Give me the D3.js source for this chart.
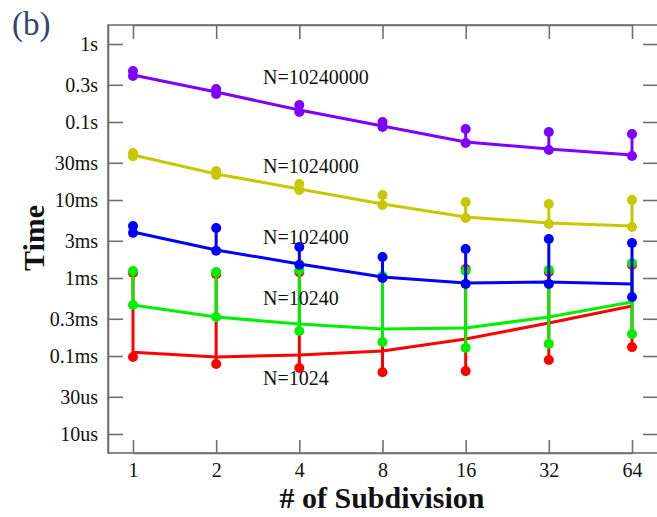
<!DOCTYPE html>
<html><head><meta charset="utf-8">
<script src="https://cdn.jsdelivr.net/npm/d3@7"></script>
<style>
html,body{margin:0;padding:0;background:#fff;}
svg{display:block;}
text{font-family:"Liberation Serif","Times New Roman",serif;}
</style></head>
<body>
<svg id="chart" width="657" height="517"></svg>
<script>
// ---- data (times in seconds) ----
const subdivisions = [1, 2, 4, 8, 16, 32, 64];
const seriesNames = ["N=1024", "N=10240", "N=102400", "N=1024000", "N=10240000"];
const seriesColors = ["#ff0000", "#00f000", "#0000ff", "#c8c800", "#8000ff"];

const mean1024     = [1.12e-4, 0.97e-4, 1.03e-4, 1.16e-4, 1.65e-4, 2.65e-4, 4.38e-4];
const max1024      = [1.16e-3, 1.12e-3, 1.19e-3, 1.03e-3, 1.30e-3, 1.19e-3, 1.47e-3];
const min1024      = [0.97e-4, 0.79e-4, 0.70e-4, 0.62e-4, 0.64e-4, 0.89e-4, 1.30e-4];

const mean10240    = [4.51e-4, 3.16e-4, 2.57e-4, 2.22e-4, 2.29e-4, 3.16e-4, 4.92e-4];
const max10240     = [1.23e-3, 1.19e-3, 1.27e-3, 1.06e-3, 1.23e-3, 1.27e-3, 1.56e-3];
const min10240     = [4.51e-4, 3.16e-4, 2.09e-4, 1.51e-4, 1.27e-4, 1.43e-4, 1.91e-4];

const mean102400   = [3.89e-3, 2.29e-3, 1.51e-3, 1.03e-3, 0.863e-3, 0.89e-3, 0.838e-3];
const max102400    = [4.64e-3, 4.38e-3, 2.50e-3, 1.86e-3, 2.36e-3, 3.16e-3, 2.81e-3];
const min102400    = [3.79e-3, 2.24e-3, 1.48e-3, 1.00e-3, 0.84e-3, 0.84e-3, 0.571e-3];

const mean1024000  = [0.0378, 0.0216, 0.01384, 0.00889, 0.00605, 0.00507, 0.00464];
const max1024000   = [0.0401, 0.0235, 0.0160, 0.0116, 0.00942, 0.00889, 0.0100];
const min1024000   = [0.0365, 0.0209, 0.01343, 0.00863, 0.00587, 0.00492, 0.00451];

const mean10240000 = [0.401, 0.242, 0.1425, 0.0889, 0.0554, 0.0451, 0.0378];
const max10240000  = [0.451, 0.265, 0.165, 0.100, 0.0813, 0.0744, 0.0702];
const min10240000  = [0.389, 0.229, 0.134, 0.0862, 0.0538, 0.0438, 0.0367];

const yTickValues = [1, 0.3, 0.1, 0.03, 0.01, 0.003, 0.001, 3e-4, 1e-4, 3e-5, 1e-5];
const yTickLabels = ["1s", "0.3s", "0.1s", "30ms", "10ms", "3ms", "1ms", "0.3ms", "0.1ms", "30us", "10us"];
const xTickLabels = ["1", "2", "4", "8", "16", "32", "64"];

// label anchor values (baseline of the text placed beside each curve)
const labelValues = [4.25e-5, 4.51e-4, 2.73e-3, 0.0222, 0.307];

const series = [
  {name: seriesNames[0], color: seriesColors[0], mean: mean1024, max: max1024, min: min1024},
  {name: seriesNames[1], color: seriesColors[1], mean: mean10240, max: max10240, min: min10240},
  {name: seriesNames[2], color: seriesColors[2], mean: mean102400, max: max102400, min: min102400},
  {name: seriesNames[3], color: seriesColors[3], mean: mean1024000, max: max1024000, min: min1024000},
  {name: seriesNames[4], color: seriesColors[4], mean: mean10240000, max: max10240000, min: min10240000}
];

// ---- layout ----
const L = 108, R = 658, T = 25, B = 453;
const svg = d3.select("#chart");

const x = d3.scaleLog().base(2).domain([1, 64]).range([133, 632]);
const y = d3.scaleLog().domain([Math.pow(10, -5.2436), Math.pow(10, 0.2436)]).range([B, T]);

const axisColor = "#707070";
function styleAxis(g) {
  g.selectAll("path.domain").attr("stroke", axisColor).attr("stroke-width", 1.6);
  g.selectAll(".tick line").attr("stroke", axisColor).attr("stroke-width", 1.6);
  g.selectAll(".tick text").attr("fill", "#111").style("font-family", '"Liberation Serif", serif').attr("font-size", 20);
}

svg.append("g").attr("transform", `translate(${L},0)`)
  .call(d3.axisLeft(y).tickValues(yTickValues).tickFormat((d, i) => yTickLabels[i]).tickSizeInner(-15).tickSizeOuter(0).tickPadding(10))
  .call(styleAxis);
svg.append("g").attr("transform", `translate(${R},0)`)
  .call(d3.axisRight(y).tickValues(yTickValues).tickFormat("").tickSizeInner(-15).tickSizeOuter(0))
  .call(styleAxis);
svg.append("g").attr("transform", `translate(0,${B})`)
  .call(d3.axisBottom(x).tickValues(subdivisions).tickFormat((d, i) => xTickLabels[i]).tickSizeInner(-13).tickSizeOuter(0).tickPadding(10))
  .call(styleAxis);
svg.append("g").attr("transform", `translate(0,${T})`)
  .call(d3.axisTop(x).tickValues(subdivisions).tickFormat("").tickSizeInner(-14).tickSizeOuter(0))
  .call(styleAxis);
svg.append("rect").attr("x", L).attr("y", T).attr("width", R - L).attr("height", B - T)
  .attr("fill", "none").attr("stroke", axisColor).attr("stroke-width", 1.6);

// ---- series ----
const line = d3.line().x(d => x(d.s)).y(d => y(d.v));
series.forEach(s => {
  const g = svg.append("g");
  const pts = subdivisions.map((sd, i) => ({s: sd, v: s.mean[i], mx: s.max[i], mn: s.min[i]}));
  g.selectAll("line.bar").data(pts).join("line")
    .attr("x1", d => x(d.s)).attr("x2", d => x(d.s))
    .attr("y1", d => y(d.mx)).attr("y2", d => y(d.mn))
    .attr("stroke", s.color).attr("stroke-width", 3);
  g.append("path").datum(pts).attr("d", line)
    .attr("fill", "none").attr("stroke", s.color).attr("stroke-width", 3);
  g.selectAll("circle.mx").data(pts).join("circle")
    .attr("cx", d => x(d.s)).attr("cy", d => y(d.mx)).attr("r", 5).attr("fill", s.color);
  g.selectAll("circle.mn").data(pts).join("circle")
    .attr("cx", d => x(d.s)).attr("cy", d => y(d.mn)).attr("r", 5).attr("fill", s.color);
});

svg.append("g").selectAll("text").data(series).join("text")
  .attr("x", 263).attr("y", (d, i) => y(labelValues[i]))
  .attr("font-size", 20).attr("fill", "#111")
  .text(d => d.name);

svg.append("text").attr("x", (L + R) / 2 - 1).attr("y", 508)
  .attr("text-anchor", "middle").attr("font-size", 30).attr("font-weight", "bold").attr("fill", "#111")
  .text("# of Subdivision");
svg.append("text").attr("transform", "translate(44,238) rotate(-90)")
  .attr("text-anchor", "middle").attr("font-size", 30).attr("font-weight", "bold").attr("fill", "#111")
  .text("Time");

svg.append("text").attr("x", 12).attr("y", 35)
  .attr("font-size", 33).attr("fill", "#34466b")
  .text("(b)");
</script>
</body></html>
